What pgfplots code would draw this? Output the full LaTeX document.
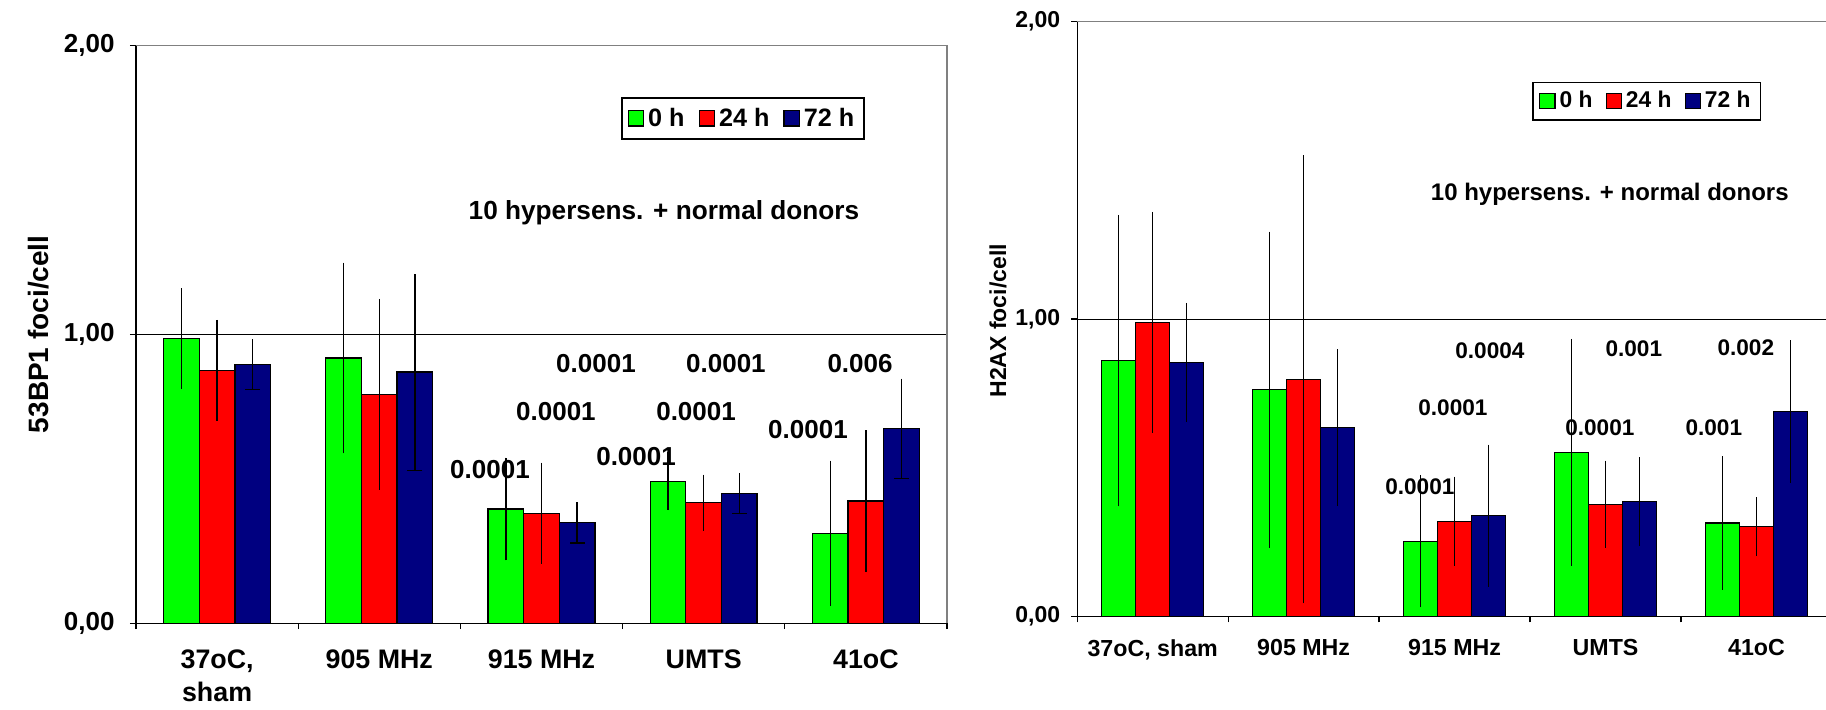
\documentclass[border=0pt]{standalone}
\usepackage{pgfplots}
\pgfplotsset{compat=1.18}
\usepackage{pgfplotstable}
\usepackage{fontspec}
\setmainfont{Liberation Sans}
\definecolor{cG}{RGB}{0,255,0}
\definecolor{cR}{RGB}{255,0,0}
\definecolor{cB}{RGB}{0,0,128}
\definecolor{bordergray}{RGB}{128,128,128}
\newcommand\fs[2]{\fontsize{#1}{#2}\selectfont\bfseries}

\pgfplotstableread{
x G Ge R Re B Be
0 0.985 0.175 0.875 0.175 0.895 0.087
1 0.918 0.330 0.792 0.330 0.869 0.340
2 0.395 0.178 0.381 0.175 0.348 0.070
3 0.491 0.100 0.417 0.097 0.450 0.070
4 0.311 0.252 0.423 0.245 0.673 0.173
}\leftdata

\pgfplotstableread{
x G Ge R Re B Be
0 0.860 0.490 0.988 0.372 0.854 0.200
1 0.762 0.532 0.797 0.753 0.634 0.264
2 0.253 0.223 0.320 0.150 0.339 0.239
3 0.552 0.381 0.377 0.147 0.387 0.149
4 0.314 0.225 0.302 0.099 0.688 0.240
}\rightdata

\pgfplotsset{
  errb/.style={/pgfplots/error bars/y dir=both, /pgfplots/error bars/y explicit,
    /pgfplots/error bars/error mark=none,
    /pgfplots/error bars/error bar style={black, line width=0.65pt, xshift=#1}},
  common/.style={
    scale only axis, anchor=south west,
    xmin=-0.5, xmax=4.5, ymin=0, ymax=2,
    axis x line*=bottom, axis y line*=left,
    axis line style={-, black, line width=0.65pt},
    tick align=outside, major tick length=3pt,
    tick style={black, line width=0.65pt},
    ytick={0,1,2}, yticklabels={{0,00},{1,00},{2,00}},
    xtick={-0.5,0.5,1.5,2.5,3.5,4.5}, xticklabels={},
    extra x ticks={0,1,2,3,4},
    extra x tick style={major tick length=0pt, tick style={draw=none}},
    ymajorgrids, grid style={black, line width=0.5pt},
    legend columns=3,
    legend image code/.code={\draw[##1, line width=0.6pt] (0pt,-3.8pt) rectangle (7.6pt,3.8pt);},
    after end axis/.code={\draw[bordergray, line width=0.75pt] (rel axis cs:0,1) -- (rel axis cs:1,1) -- (rel axis cs:1,0);},
  },
}

\begin{document}
\begin{tikzpicture}
\useasboundingbox (0,0) rectangle (913pt,355pt);
\clip (0,0) rectangle (913pt,355pt);

% ---------- left chart ----------
\begin{axis}[common,
  at={(68pt,43.4pt)}, width=405.5pt, height=288.95pt,
  yticklabel style={font=\fs{13pt}{14pt}, xshift=-4.2pt},
  extra x tick labels={{37oC,\\sham},905 MHz,915 MHz,UMTS,41oC},
  xticklabel style={font=\fs{13.4pt}{16.5pt}, align=center, yshift=-10pt},
  ylabel={53BP1 foci/cell},
  ylabel style={font=\fs{14pt}{16pt}, at={(axis description cs:-0.1196,0.5)}, anchor=center},
  legend style={at={(0.598,0.9105)}, anchor=north west, draw=black, line width=0.85pt,
    font=\fs{12.6pt}{14pt}, inner xsep=3pt, inner ysep=3pt,
    /tikz/every even column/.append style={column sep=5pt}},
]
\addplot[ybar, bar width=17.8pt, bar shift=-17.8pt, fill=cG, draw=black, line width=0.6pt, errb=-17.8pt]
  table[x=x, y=G, y error=Ge]{\leftdata};
\addlegendentry{0 h}
\addplot[ybar, bar width=17.8pt, bar shift=0pt, fill=cR, draw=black, line width=0.6pt, errb=0pt]
  table[x=x, y=R, y error=Re]{\leftdata};
\addlegendentry{24 h}
\addplot[ybar, bar width=17.8pt, bar shift=17.8pt, fill=cB, draw=black, line width=0.6pt, errb=17.8pt]
  table[x=x, y=B, y error=Be]{\leftdata};
\addlegendentry{72 h}
% lower caps of the 72 h error bars
\addplot[only marks, forget plot, mark=-, mark size=3.75pt, black, line width=0.7pt, xshift=17.8pt]
  table[x=x, y expr=\thisrow{B}-\thisrow{Be}]{\leftdata};

\node[font=\fs{13pt}{14pt}] at (axis cs:1.6825,0.530) {0.0001};
\node[font=\fs{13pt}{14pt}] at (axis cs:2.089,0.733) {0.0001};
\node[font=\fs{13pt}{14pt}] at (axis cs:2.336,0.898) {0.0001};
\node[font=\fs{13pt}{14pt}] at (axis cs:2.583,0.578) {0.0001};
\node[font=\fs{13pt}{14pt}] at (axis cs:2.953,0.733) {0.0001};
\node[font=\fs{13pt}{14pt}] at (axis cs:3.137,0.898) {0.0001};
\node[font=\fs{13pt}{14pt}] at (axis cs:3.643,0.671) {0.0001};
\node[font=\fs{13pt}{14pt}] at (axis cs:3.964,0.898) {0.006};
\node[font=\fs{13.1pt}{14pt}] at (axis cs:2.755,1.42) {10 hypersens. + normal donors};
\end{axis}

% ---------- right chart ----------
\begin{axis}[common,
  at={(538.6pt,46.8pt)}, width=377.4pt, height=297.35pt,
  yticklabel style={font=\fs{11.5pt}{12pt}, xshift=-2pt},
  extra x tick labels={37oC{,} sham,905 MHz,915 MHz,UMTS,41oC},
  xticklabel style={font=\fs{11.6pt}{13pt}, yshift=-8pt},
  ylabel={H2AX foci/cell},
  ylabel style={font=\fs{11.5pt}{13pt}, at={(axis description cs:-0.105,0.497)}, anchor=center},
  legend style={at={(0.603,0.8994)}, anchor=north west, draw=black, line width=0.85pt,
    font=\fs{11.4pt}{12pt}, inner xsep=3pt, inner ysep=2.5pt,
    /tikz/every even column/.append style={column sep=4.5pt}},
]
\addplot[ybar, bar width=16.95pt, bar shift=-16.95pt, fill=cG, draw=black, line width=0.6pt, errb=-16.95pt]
  table[x=x, y=G, y error=Ge]{\rightdata};
\addlegendentry{0 h}
\addplot[ybar, bar width=16.95pt, bar shift=0pt, fill=cR, draw=black, line width=0.6pt, errb=0pt]
  table[x=x, y=R, y error=Re]{\rightdata};
\addlegendentry{24 h}
\addplot[ybar, bar width=16.95pt, bar shift=16.95pt, fill=cB, draw=black, line width=0.6pt, errb=16.95pt]
  table[x=x, y=B, y error=Be]{\rightdata};
\addlegendentry{72 h}

\node[font=\fs{11.3pt}{12pt}] at (axis cs:1.770,0.436) {0.0001};
\node[font=\fs{11.3pt}{12pt}] at (axis cs:1.989,0.703) {0.0001};
\node[font=\fs{11.3pt}{12pt}] at (axis cs:2.234,0.893) {0.0004};
\node[font=\fs{11.3pt}{12pt}] at (axis cs:2.962,0.635) {0.0001};
\node[font=\fs{11.3pt}{12pt}] at (axis cs:3.187,0.900) {0.001};
\node[font=\fs{11.3pt}{12pt}] at (axis cs:3.717,0.634) {0.001};
\node[font=\fs{11.3pt}{12pt}] at (axis cs:3.929,0.903) {0.002};
\node[font=\fs{12pt}{13pt}] at (axis cs:3.028,1.421) {10 hypersens. + normal donors};
\end{axis}
\end{tikzpicture}
\end{document}
